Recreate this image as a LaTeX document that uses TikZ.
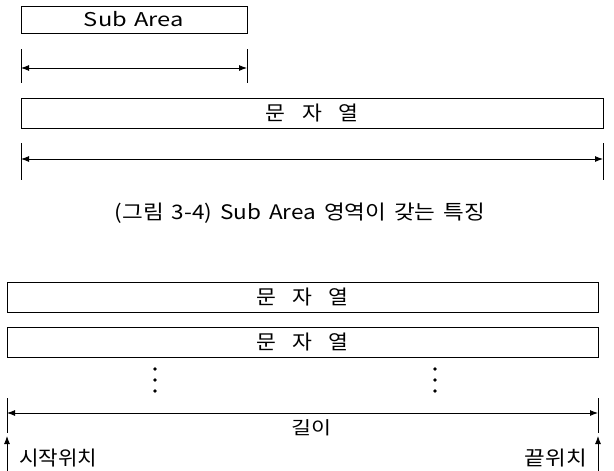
\documentclass[tikz,border=0pt]{standalone}
\usepackage{fontspec}
\usepackage{graphicx}
\setmainfont{Noto Sans CJK KR}
\usetikzlibrary{arrows.meta}
\newcommand{\fitw}[2]{\resizebox{#1}{\height}{#2}}
\tikzset{
  strbox/.style={draw, line width=0.9pt, inner sep=0pt, font=\fontsize{20}{22}\selectfont},
  tick/.style={line width=0.9pt},
  dim/.style={line width=0.9pt, {Latex[length=8pt,width=6pt]}-{Latex[length=8pt,width=6pt]}},
  up/.style={line width=0.9pt, -{Latex[length=8pt,width=6pt]}},
  vdot/.style={circle, fill, inner sep=0pt, minimum size=3.6pt},
  lbl/.style={inner sep=0pt, font=\fontsize{20}{22}\selectfont},
}
\begin{document}
\begin{tikzpicture}[x=1pt,y=-1pt]
\useasboundingbox (0,0) rectangle (614,471);
% top part
\node[strbox, minimum width=226pt, minimum height=27pt, font=\fontsize{19}{21}\selectfont] (sub) at (134,19.5) {\fitw{100pt}{\spaceskip=6pt\relax Sub Area}};
\coordinate (s1t) at (21,49); \coordinate (s1b) at (21,83);
\coordinate (s2t) at (247,49); \coordinate (s2b) at (247,83);
\coordinate (s1m) at (21,68); \coordinate (s2m) at (247,68);
\draw[tick] (s1t) -- (s1b);
\draw[tick] (s2t) -- (s2b);
\draw[dim] (s1m) -- (s2m);

\node[strbox, minimum width=582pt, minimum height=30pt] (str) at (312,113) {\fitw{92pt}{\spaceskip=15pt\relax 문 자 열}};
\coordinate (a1t) at (21,143); \coordinate (a1b) at (21,180);
\coordinate (a2t) at (603,143); \coordinate (a2b) at (603,180);
\coordinate (a1m) at (21,159); \coordinate (a2m) at (603,159);
\draw[tick] (a1t) -- (a1b);
\draw[tick] (a2t) -- (a2b);
\draw[dim] (a1m) -- (a2m);

\node[lbl] (cap) at (300,213) {\fitw{370pt}{\spaceskip=7pt\relax (그림 3-4) Sub Area 영역이 갖는 특징}};

% bottom part
\node[strbox, minimum width=591pt, minimum height=30pt] (b1) at (302.5,297) {\fitw{92pt}{\spaceskip=15pt\relax 문 자 열}};
\node[strbox, minimum width=591pt, minimum height=30pt] (b2) at (302.5,342) {\fitw{92pt}{\spaceskip=15pt\relax 문 자 열}};
\node[vdot] (d1) at (155,369) {};
\node[vdot] (d2) at (155,380) {};
\node[vdot] (d3) at (155,391) {};
\node[vdot] (e1) at (435,369) {};
\node[vdot] (e2) at (435,380) {};
\node[vdot] (e3) at (435,391) {};

\coordinate (l1t) at (7,398); \coordinate (l1b) at (7,433);
\coordinate (l2t) at (598,398); \coordinate (l2b) at (598,433);
\coordinate (l1m) at (7,413); \coordinate (l2m) at (598,413);
\draw[tick] (l1t) -- (l1b);
\draw[tick] (l2t) -- (l2b);
\draw[dim] (l1m) -- (l2m);
\node[lbl, font=\fontsize{18}{20}\selectfont] (len) at (311,428) {\fitw{40pt}{길이}};

\coordinate (u1b) at (7,471); \coordinate (u1t) at (7,436);
\coordinate (u2b) at (598,471); \coordinate (u2t) at (598,436);
\draw[up] (u1b) -- (u1t);
\draw[up] (u2b) -- (u2t);
\node[lbl, anchor=west] (start) at (19,458) {\fitw{78pt}{시작위치}};
\node[lbl, anchor=east] (end) at (587,458) {\fitw{62pt}{끝위치}};
\end{tikzpicture}
\end{document}
